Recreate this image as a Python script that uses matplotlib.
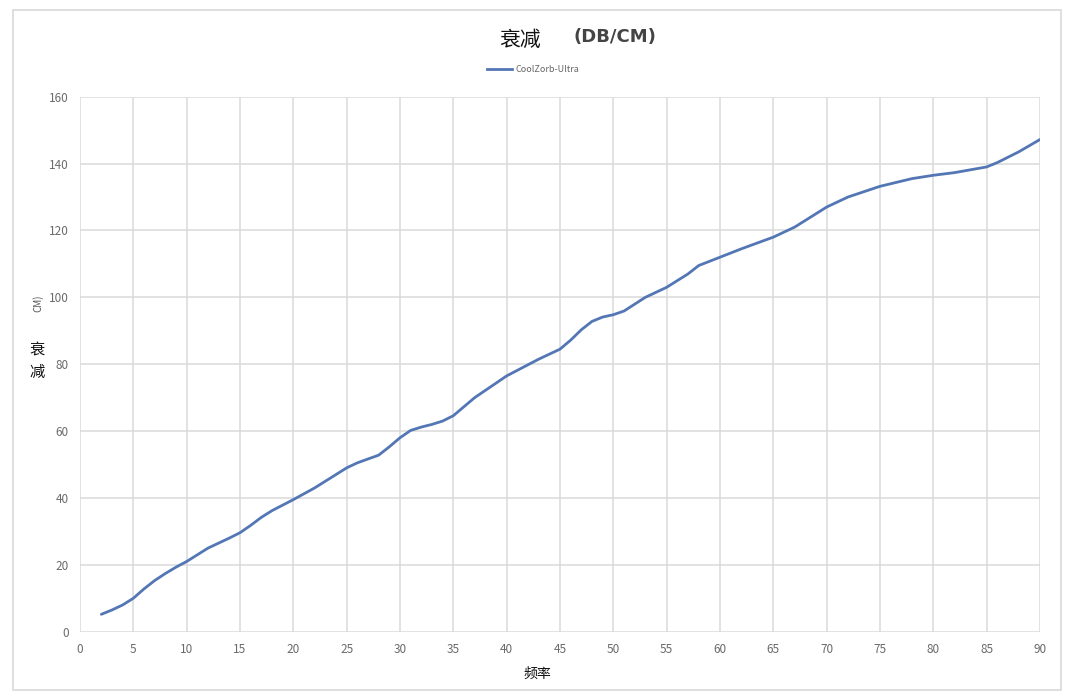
import matplotlib
matplotlib.use("Agg")
import matplotlib.pyplot as plt
from matplotlib.patches import Rectangle

plt.rcParams['font.family'] = ['Noto Sans CJK SC', 'DejaVu Sans']

freq = [2, 3, 4, 5, 6, 7, 8, 9, 10, 12, 14, 15, 16, 17, 18, 20, 22, 25, 26, 28, 29,
        30, 31, 32, 33, 34, 35, 37, 40, 43, 45, 46, 47, 48, 49, 50, 51, 53, 55, 57, 58,
        60, 62, 65, 67, 70, 72, 75, 78, 80, 82, 85, 86, 88, 90]
atten = [5.2, 6.5, 8, 10, 12.8, 15.3, 17.4, 19.3, 21, 25, 28, 29.6, 31.8, 34.2, 36.2,
         39.5, 43, 49, 50.5, 52.8, 55.3, 58, 60.2, 61.2, 62, 63, 64.6, 70, 76.5,
         81.5, 84.5, 87.2, 90.3, 92.8, 94.1, 94.8, 95.9, 100, 103, 107, 109.5, 112,
         114.5, 118, 121, 127, 130, 133.2, 135.5, 136.5, 137.3, 139, 140.3,
         143.5, 147.2]
series_name = "CoolZorb-Ultra"
xticks = list(range(0, 91, 5))
yticks = list(range(0, 161, 20))

fig = plt.figure(figsize=(10.73, 6.99), dpi=100)
fig.patch.set_facecolor('white')

# outer chart border
fig.patches.append(Rectangle((13 / 1073, 1 - 690 / 699), (1061 - 13) / 1073, (690 - 10) / 699,
                             transform=fig.transFigure, fill=False,
                             edgecolor='#d9d9d9', linewidth=1.2))

ax = fig.add_axes([80 / 1073, 1 - 631.7 / 699, 960 / 1073, 535 / 699])
ax.plot(freq, atten, color='#5376B5', linewidth=2.0, solid_capstyle='round',
        solid_joinstyle='round', label=series_name)

ax.set_xlim(0, 90)
ax.set_ylim(0, 160)
ax.set_xticks(xticks)
ax.set_yticks(yticks)
ax.grid(True, color='#dadada', linewidth=1.1)
ax.set_axisbelow(True)
for s in ax.spines.values():
    s.set_visible(False)
ax.tick_params(length=0, labelsize=8.5, colors='#6a6a6a', pad=8)

# title
fig.text(520 / 1073, 1 - 40 / 699, "衰减", fontsize=15, color='#111111',
         ha='center', va='center')
fig.text(615 / 1073, 1 - 37 / 699, "(DB/CM)", fontsize=13, color='#444444',
         fontweight='bold', ha='center', va='center', family=['DejaVu Sans'])

# legend
fig.lines.append(plt.Line2D([487 / 1073, 512 / 1073], [1 - 69 / 699, 1 - 69 / 699],
                            transform=fig.transFigure, color='#5376B5', linewidth=2.0))
fig.text(516 / 1073, 1 - 69 / 699, series_name, fontsize=6.5, color='#666666',
         ha='left', va='center')

# y label (partially shown)
fig.text(38 / 1073, 1 - 303 / 699, "CM)", fontsize=7, color='#555555',
         rotation=90, ha='center', va='center')
fig.text(37 / 1073, 1 - 349 / 699, "衰", fontsize=11, color='#111111',
         ha='center', va='center')
fig.text(37 / 1073, 1 - 372 / 699, "减", fontsize=11, color='#111111',
         ha='center', va='center')

# x label
fig.text(537 / 1073, 1 - 674 / 699, "频率", fontsize=10, color='#111111',
         ha='center', va='center')

fig.savefig("out.png", dpi=100)
